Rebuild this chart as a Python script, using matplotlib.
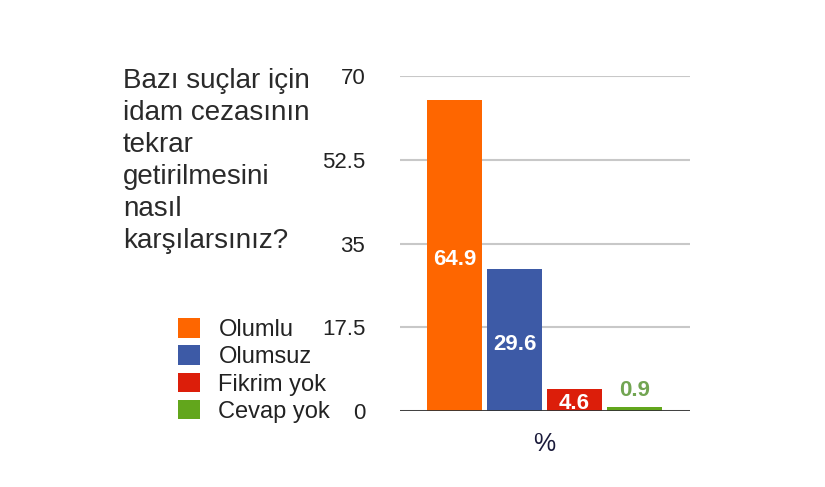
import matplotlib.pyplot as plt
from matplotlib.patches import Patch

plt.rcParams['font.family'] = ['Liberation Sans', 'DejaVu Sans']

question = "Bazı suçlar için\nidam cezasının\ntekrar\ngetirilmesini\nnasıl\nkarşılarsınız?"
answers = ["Olumlu", "Olumsuz", "Fikrim yok", "Cevap yok"]
percent = [64.9, 29.6, 4.6, 0.9]
colors = ["#fe6600", "#3d5aa6", "#dc1e0a", "#62a61c"]
yticks = [0, 17.5, 35, 52.5, 70]
ytick_labels = ["0", "17.5", "35", "52.5", "70"]

fig = plt.figure(figsize=(8.25, 4.87), dpi=100)
ax = fig.add_axes([400 / 825, 76 / 487, 290 / 825, 335 / 487])

xs = range(len(percent))
bars = ax.bar(xs, percent, width=0.917, color=colors, zorder=3)

ax.set_xlim(-0.908, 3.925)
ax.set_ylim(0, 70)
ax.set_yticks(yticks)
ax.set_yticklabels(ytick_labels, fontsize=16, color="#222222")
ax.set_xticks([])
ax.tick_params(axis="y", length=0, pad=25)
ax.yaxis.grid(True, color="#c8c8c8", lw=1.5, zorder=0)
for s in ax.spines.values():
    s.set_visible(False)
ax.axhline(0, color="#333333", lw=2, zorder=4)

# value labels: white in the middle of the bar, green above the tiny bar
for x, v, c in zip(xs, percent, colors):
    if v > 3:
        ax.text(x, v / 2 - 0.8, f"{v}", ha="center", va="center", color="white",
                fontsize=16, fontweight="bold", zorder=5)
    else:
        ax.text(x, v + 1.2, f"{v}", ha="center", va="bottom", color="#72a552",
                fontsize=16, fontweight="bold", zorder=5)

ax.text(1.5, -4.3, "%", ha="center", va="top", fontsize=18, color="#1a1a3a")

fig.text(123 / 825, 1 - 68 / 487, question, ha="left", va="top",
         fontsize=20, color="#2a2a2a", linespacing=1.3)

handles = [Patch(facecolor=c) for c in colors]
fig.legend(handles, answers, loc="upper left",
           bbox_to_anchor=(157 / 825, 1 - 297 / 487), frameon=False,
           fontsize=17, handlelength=0.9, handleheight=0.9,
           handletextpad=0.8, labelspacing=0.18, labelcolor="#222222")

fig.savefig("out.png", dpi=100)
